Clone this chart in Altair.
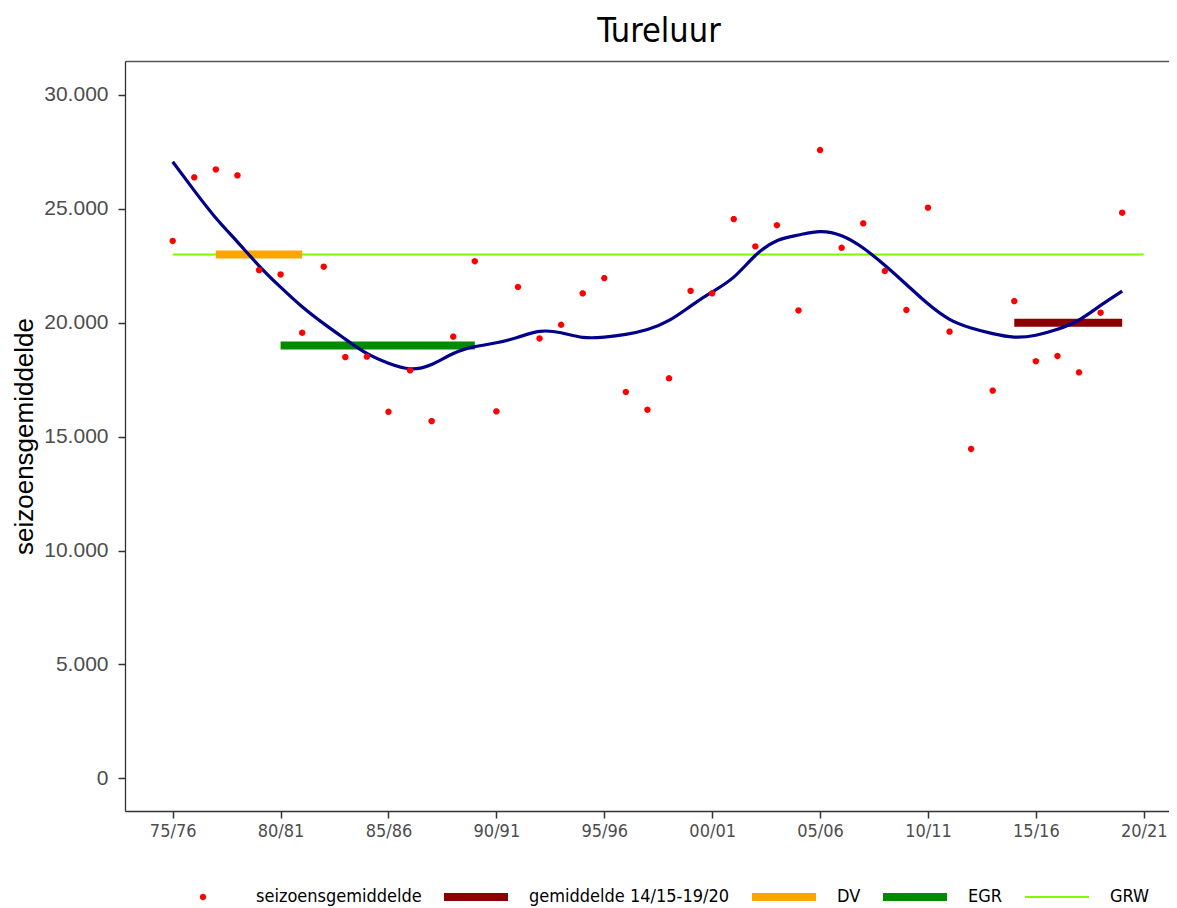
import math
import altair as alt
import pandas as pd

# ---- data ----
season_index = list(range(45))  # 0 = 75/76 ... 44 = 19/20
seizoensgemiddelde = [23590, 26380, 26730, 26470, 22310, 22120, 19560, 22460, 18490, 18510,
                      16090, 17910, 15680, 19390, 22700, 16110, 21570, 19310, 19910, 21290,
                      21960, 16960, 16180, 17560, 21400, 21290, 24550, 23350, 24280, 20540,
                      27580, 23290, 24360, 22270, 20560, 25050, 19610, 14460, 17020, 20950,
                      18310, 18540, 17820, 20440, 24830]
trend = [27070, 25800, 24600, 23550, 22500, 21560, 20700, 19960, 19280, 18650,
         18220, 17980, 18170, 18650, 18950, 19120, 19360, 19620, 19560, 19360,
         19370, 19490, 19700, 20100, 20730, 21350, 22000, 22950, 23600, 23850,
         24000, 23820, 23280, 22520, 21680, 20830, 20150, 19770, 19520, 19370,
         19450, 19710, 20120, 20760, 21390]

seg_series = ["GRW", "DV", "EGR", "gemiddelde 14/15-19/20"]
seg_colors = ["#7CFC00", "#FFA500", "#008B00", "#8B0000"]
seg_start = [0, 2, 5, 39]
seg_end = [45, 6, 14, 44]
seg_value = [23000, 23000, 19000, 20000]

tick_pos = [0, 5, 10, 15, 20, 25, 30, 35, 40, 45]
tick_labels = ["75/76", "80/81", "85/86", "90/91", "95/96", "00/01", "05/06", "10/11", "15/16", "20/21"]

legend_names = ["seizoensgemiddelde", "gemiddelde 14/15-19/20", "DV", "EGR", "GRW"]
legend_colors = ["#FF0000", "#8B0000", "#FFA500", "#008B00", "#7CFC00"]

# symbol shapes (unit square [-1,1]); small dot and horizontal bars
r = 0.1
dot = "M" + " L".join("%.4f,%.4f" % (r * math.cos(2 * math.pi * k / 20), r * math.sin(2 * math.pi * k / 20))
                      for k in range(20)) + " Z"
thick = "M-1,-0.125 L1,-0.125 L1,0.125 L-1,0.125 Z"
thin = "M-1,-0.032 L1,-0.032 L1,0.032 L-1,0.032 Z"
legend_shapes = [dot, thick, thick, thick, thin]

points_df = pd.DataFrame({"idx": season_index, "v": seizoensgemiddelde,
                          "series": ["seizoensgemiddelde"] * len(season_index)})
trend_df = pd.DataFrame({"idx": season_index, "v": trend})
seg_df = pd.DataFrame({"series": seg_series, "x0": seg_start, "x1": seg_end, "v": seg_value})

FONT = "DejaVu Sans Condensed, DejaVu Sans"
xscale = alt.Scale(domain=[-2.21, 46.17], nice=False, zero=False)
yscale = alt.Scale(domain=[-1435, 31490], nice=False, zero=False)
cscale = alt.Scale(domain=legend_names, range=legend_colors)
sscale = alt.Scale(domain=legend_names, range=legend_shapes)
stscale = alt.Scale(domain=seg_series, range=seg_colors)

label_js = "[" + ",".join("'%s'" % t for t in tick_labels) + "][round(datum.value/5)]"

x_axis = alt.Axis(values=tick_pos, labelExpr=label_js, title=None, grid=False,
                  orient="bottom", domainColor="#333333", domainWidth=1.3,
                  tickColor="#333333", tickWidth=1.5, tickSize=7,
                  labelColor="#4D4D4D", labelFont=FONT, labelFontSize=18, labelPadding=4)
x_top = alt.Axis(orient="top", labels=False, ticks=False, title=None, grid=False,
                 domainColor="#555555", domainWidth=1.3)
y_axis = alt.Axis(values=[0, 5000, 10000, 15000, 20000, 25000, 30000],
                  labelExpr="replace(format(datum.value, ','), ',', '.')",
                  title="seizoensgemiddelde", grid=False,
                  domainColor="#333333", domainWidth=1.3,
                  tickColor="#333333", tickWidth=1.5, tickSize=7,
                  labelColor="#4D4D4D", labelFont="Liberation Sans, Arial", labelFontSize=21,
                  labelPadding=10,
                  titleFont="Liberation Sans, Arial", titleFontSize=26, titleFontWeight="normal",
                  titleColor="#000000", titlePadding=6)

legend = alt.Legend(orient="none", legendX=46, legendY=804, direction="horizontal",
                    columns=5, title=None, symbolSize=4096, symbolStrokeWidth=0,
                    labelOffset=21, columnPadding=22, padding=0, labelLimit=400,
                    labelFont=FONT, labelFontSize=18, labelColor="#000000")

grw = alt.Chart(seg_df).transform_filter(alt.datum.series == "GRW").mark_rule(
    strokeWidth=2, strokeCap="butt").encode(
    x=alt.X("x0:Q", scale=xscale, axis=None),
    x2="x1:Q",
    y=alt.Y("v:Q", scale=yscale, axis=y_axis),
    stroke=alt.Stroke("series:N", scale=stscale, legend=None),
)

bars = alt.Chart(seg_df).transform_filter(alt.datum.series != "GRW").mark_rule(
    strokeWidth=8, strokeCap="butt").encode(
    x=alt.X("x0:Q", scale=xscale, axis=None),
    x2="x1:Q",
    y=alt.Y("v:Q", scale=yscale, axis=y_axis),
    stroke=alt.Stroke("series:N", scale=stscale, legend=None),
)

line = alt.Chart(trend_df).mark_line(color="#00008B", strokeWidth=3.2,
                                     interpolate="natural").encode(
    x=alt.X("idx:Q", scale=xscale, axis=x_top),
    y=alt.Y("v:Q", scale=yscale, axis=y_axis),
)

points = alt.Chart(points_df).mark_point(filled=True, opacity=1, size=4096,
                                         strokeWidth=0).encode(
    x=alt.X("idx:Q", scale=xscale, axis=x_axis),
    y=alt.Y("v:Q", scale=yscale, axis=y_axis),
    color=alt.Color("series:N", scale=cscale, legend=legend),
    shape=alt.Shape("series:N", scale=sscale, legend=legend),
)

chart = alt.layer(grw, bars, line, points).resolve_axis(x="independent").properties(
    width=1044, height=750,
    autosize=alt.AutoSizeParams(type="none"),
    padding={"left": 117, "top": 53, "right": 0, "bottom": 97},
    title=alt.TitleParams("Tureluur", font=FONT, fontSize=34, fontWeight="normal",
                          color="#000000", anchor="middle", offset=12, dx=12),
).configure_view(stroke=None).configure(background="white")

chart.save("out.html", embed_options={"renderer": "svg", "actions": False})
